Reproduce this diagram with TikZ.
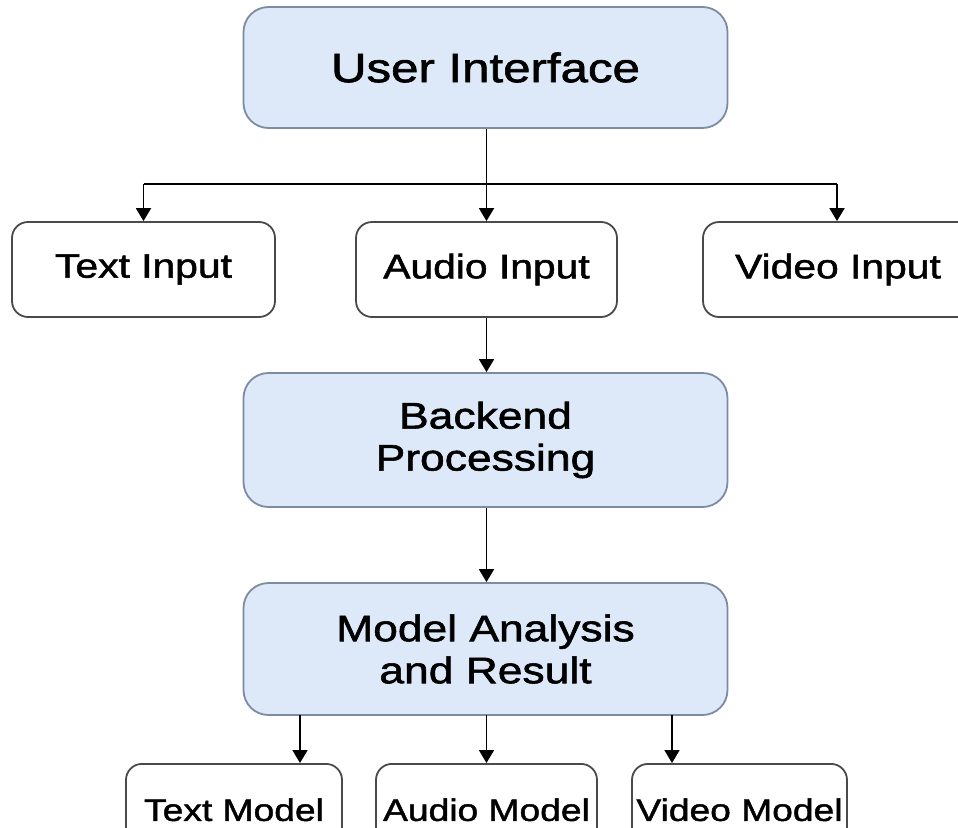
\documentclass[tikz,border=0pt]{standalone}
\usepackage{fontspec}
\setmainfont[FakeStretch=1.2, FakeBold=1.5]{Liberation Sans}
\usetikzlibrary{arrows.meta}
\definecolor{bluefill}{HTML}{DDE9F8}
\definecolor{blueline}{HTML}{7D8BA3}
\definecolor{greyline}{HTML}{4A4A4A}
\tikzset{
  bluebox/.style={draw=blueline, fill=bluefill, line width=1.8pt, rounded corners=25pt,
    minimum width=484pt, align=center, inner sep=0pt},
  inbox/.style={draw=greyline, fill=white, line width=1.8pt, rounded corners=16pt,
    minimum height=95pt, inner sep=0pt, font=\fontsize{34}{40}\selectfont},
  modbox/.style={draw=greyline, fill=white, line width=1.8pt, rounded corners=16pt,
    anchor=north, inner xsep=0pt, inner ysep=35pt, text height=22pt, text depth=40pt,
    font=\fontsize{31}{36}\selectfont},
  conn/.style={line width=1.8pt, draw=black},
  arr/.style={conn, -{Triangle[width=15pt,length=13pt]}}
}
\begin{document}
\begin{tikzpicture}[x=1pt, y=-1pt]
\useasboundingbox (0,0) rectangle (958,827);
\clip (0,0) rectangle (958,827);
\fill[white] (0,0) rectangle (958,827);
% top box
\node[bluebox, minimum height=121pt, font=\fontsize{41}{46}\selectfont] (ui) at (485.5,67.5) {User Interface};
% input row
\node[inbox, minimum width=263pt] (textin) at (143.5,269.5) {Text Input};
\node[inbox, minimum width=261pt] (audioin) at (486.5,269.5) {Audio Input};
\node[inbox, minimum width=270pt] (videoin) at (838,269.5) {Video Input};
% backend
\node[bluebox, minimum height=134pt, font=\fontsize{37}{42}\selectfont] (backend) at (485.5,440) {Backend\\[0pt]Processing};
% model
\node[bluebox, minimum height=132pt, font=\fontsize{37}{42}\selectfont] (model) at (485.5,649) {Model Analysis\\[0pt]and Result};
% bottom row
\node[modbox, minimum width=216pt] (textm) at (234,763) {Text Model};
\node[modbox, minimum width=221pt] (audiom) at (486.5,763) {Audio Model};
\node[modbox, minimum width=215pt] (videom) at (739.5,763) {Video Model};
% connectors
\coordinate (jl) at (143.5,184);
\coordinate (jr) at (837,184);
\draw[arr] (ui.south -| audioin.north) -- (audioin.north);
\draw[conn] (jl) -- (jr);
\draw[arr] (jl) -- (jl |- textin.north);
\draw[arr] (jr) -- (jr |- videoin.north);
\draw[arr] (audioin.south) -- (audioin.south |- backend.north);
\draw[arr] (backend.south -| audioin.south) -- (model.north -| audioin.south);
\coordinate (ml) at (300,715);
\coordinate (mm) at (486.5,715);
\coordinate (mr) at (672,715);
\draw[arr] (ml) -- (ml |- textm.north);
\draw[arr] (mm) -- (mm |- audiom.north);
\draw[arr] (mr) -- (mr |- videom.north);
\end{tikzpicture}
\end{document}
